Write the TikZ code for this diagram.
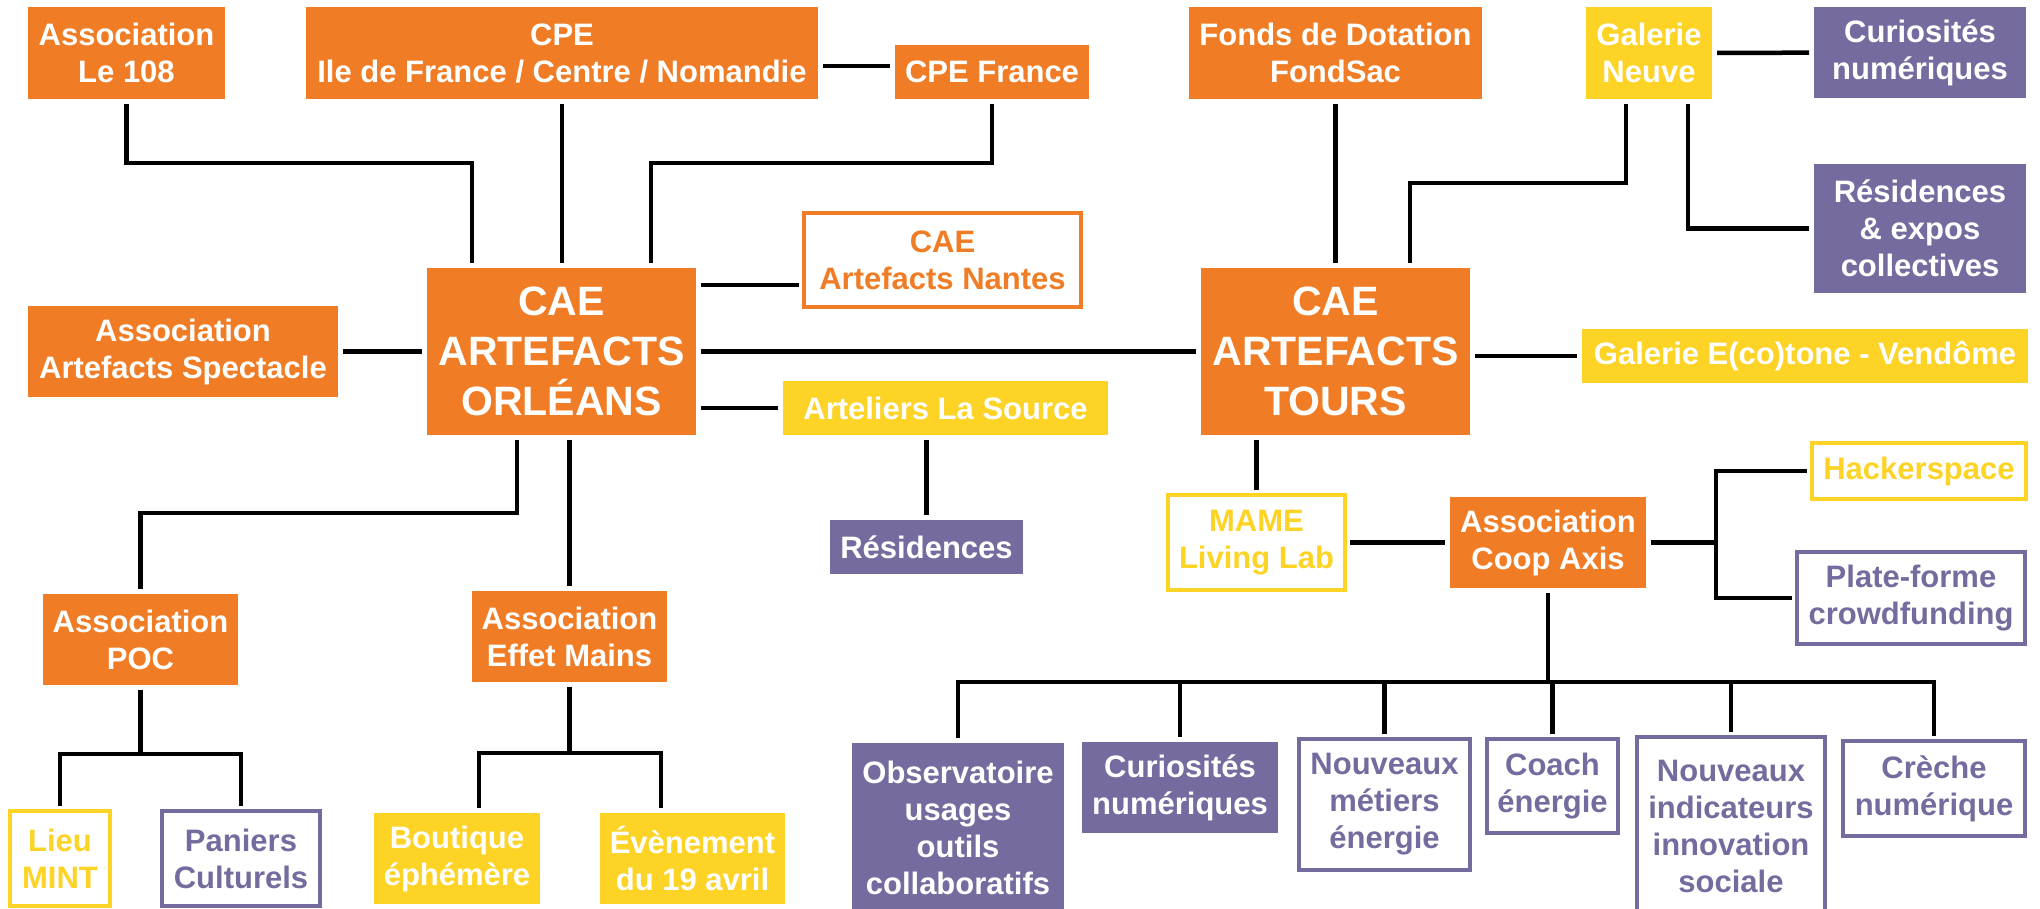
\documentclass[tikz,border=0pt]{standalone}
\usepackage{fontspec}
\setmainfont{Liberation Sans}
\definecolor{O}{RGB}{240, 125, 38}
\definecolor{Y}{RGB}{253, 211, 38}
\definecolor{P}{RGB}{118, 107, 158}
\tikzset{
  caja/.style={rectangle, inner sep=0pt, outer sep=5pt, align=center,
    font=\bfseries\fontsize{31}{37}\selectfont},
  llena/.style={caja, fill=#1, text=white},
  borde/.style={caja, draw=#1, line width=4.5pt, text=#1, fill=white},
  grande/.style={font=\bfseries\fontsize{41}{50}\selectfont},
  tam/.style 2 args={minimum width=#1pt, minimum height=#2pt},
  enlace/.style={line width=4.5pt},
}

\begin{document}
\begin{tikzpicture}[x=1pt,y=-1pt]
   	\useasboundingbox (0,0) rectangle (2040,909);

	%Nodos centrales
   	\node[llena=O, grande, tam={269}{167}] (orleans) at (561.5,351.5) {CAE\\ARTEFACTS\\ORLÉANS};
   	\node[llena=O, grande, tam={269}{167}] (tours) at (1335.5,351.5) {CAE\\ARTEFACTS\\TOURS};

	%Fila superior
   	\node[llena=O, tam={197}{92}] (le108) at (126.5,53) {Association\\Le 108};
   	\node[llena=O, tam={512}{92}] (cpeidf) at (562,53) {CPE\\Ile de France / Centre / Nomandie};
   	\node[llena=O, tam={194}{54}] (cpefr) at (992,72) {CPE France};
   	\node[llena=O, tam={293}{92}] (fondsac) at (1335.5,53) {Fonds de Dotation\\FondSac};
   	\node[llena=Y, tam={126}{92}] (galneuve) at (1649,53) {Galerie\\Neuve};
   	\node[llena=P, tam={212}{91}] (curhaut) at (1920,52.5) {Curiosités\\numériques};
   	\node[llena=P, tam={212}{129}] (resexpo) at (1920,228.5) {Résidences\\\& expos\\collectives};

	%Alrededor de Orleans
   	\node[borde=O, tam={277}{94}] (nantes) at (942.5,260) {CAE\\Artefacts Nantes};
   	\node[llena=O, tam={310}{91}] (spectacle) at (183,351.5) {Association\\Artefacts Spectacle};
   	\node[llena=Y, tam={325}{54}] (arteliers) at (945.5,408) {Arteliers La Source};
   	\node[llena=P, tam={193}{54}] (residences) at (926.5,547) {Résidences};

	%Alrededor de Tours
   	\node[llena=Y, tam={446}{54}] (vendome) at (1805,356) {Galerie E(co)tone - Vendôme};
   	\node[borde=Y, tam={214}{56}] (hacker) at (1919,471) {Hackerspace};
   	\node[borde=Y, tam={177}{95}] (mame) at (1256.5,542.5) {MAME\\Living Lab};
   	\node[llena=O, tam={196}{91}] (coop) at (1548,542.5) {Association\\Coop Axis};
   	\node[borde=P, tam={228}{92}] (plateforme) at (1911,598) {Plate-forme\\crowdfunding};

	%Rama inferior de Orleans
   	\node[llena=O, tam={195}{91}] (poc) at (140.5,639.5) {Association\\POC};
   	\node[llena=O, tam={195}{91}] (effet) at (569.5,636.5) {Association\\Effet Mains};
   	\node[borde=Y, tam={100}{95}] (lieu) at (60,858.5) {Lieu\\MINT};
   	\node[borde=P, tam={158}{95}] (paniers) at (241,858.5) {Paniers\\Culturels};
   	\node[llena=Y, tam={166}{91}] (boutique) at (457,858.5) {Boutique\\éphémère};
   	\node[llena=Y, tam={185}{91}] (evenement) at (692.5,858.5) {Évènement\\du 19 avril};

	%Rama inferior de Coop Axis
   	\node[llena=P, tam={212}{170}] (observ) at (958,828) {Observatoire\\usages\\outils\\collaboratifs};
   	\node[llena=P, tam={196}{91}] (curbas) at (1180,787.5) {Curiosités\\numériques};
   	\node[borde=P, tam={171}{131}] (metiers) at (1384.5,804.5) {Nouveaux\\métiers\\énergie};
   	\node[borde=P, tam={131}{94}] (coach) at (1552.5,786) {Coach\\énergie};
   	\node[borde=P, tam={188}{178}] (indic) at (1731,826) {Nouveaux\\indicateurs\\innovation\\sociale};
   	\node[borde=P, tam={182}{95}] (creche) at (1934,788.5) {Crèche\\numérique};

	%Puntos de quiebre
   	\coordinate (k1) at (472,163);
   	\coordinate (k2) at (651,163);
   	\coordinate (k3) at (0,66);
   	\coordinate (k4) at (0,285);
   	\coordinate (k5) at (517,513);
   	\coordinate (b1) at (140.5,754);
   	\coordinate (b2l) at (479,753);
   	\coordinate (b2r) at (661,753);
   	\coordinate (k7) at (1626,183);
   	\coordinate (k8) at (1410,183);
   	\coordinate (k9) at (1688,228.5);
   	\coordinate (k10) at (1716,542.5);
   	\coordinate (bus) at (1548,682);

	%Enlaces de Orleans
   	\draw[enlace] (le108.south) |- (k1) -- (k1 |- orleans.north);
   	\draw[enlace] (cpeidf.south) -- (cpeidf.south |- orleans.north);
   	\draw[enlace] (cpefr.south) |- (k2) -- (k2 |- orleans.north);
   	\draw[enlace] (cpeidf.east |- k3) -- (cpefr.west |- k3);
   	\draw[enlace] (orleans.east |- k4) -- (nantes.west |- k4);
   	\draw[enlace] (spectacle) -- (orleans);
   	\draw[enlace] (orleans) -- (tours);
   	\draw[enlace] (orleans.east |- arteliers) -- (arteliers);
   	\draw[enlace] (arteliers.south -| residences) -- (residences);
   	\draw[enlace] (orleans.south -| k5) -- (k5) -| (poc.north);
   	\draw[enlace] (orleans.south -| effet) -- (effet.north);

	%Enlaces de POC y Effet Mains
   	\draw[enlace] (poc.south) -- (b1);
   	\draw[enlace] (lieu.north) |- (paniers.north |- b1) -- (paniers.north);
   	\draw[enlace] (effet.south) -- (effet.south |- b2l);
   	\draw[enlace] (b2l |- boutique.north) -- (b2l) -- (b2r) -- (b2r |- evenement.north);

	%Enlaces de Tours
   	\draw[enlace] (fondsac) -- (tours);
   	\draw[enlace] (galneuve.south -| k7) -- (k7) -- (k8) -- (k8 |- tours.north);
   	\draw[enlace] (galneuve) -- (curhaut);
   	\draw[enlace] (galneuve.south -| k9) -- (k9) -- (resexpo.west);
   	\draw[enlace] (tours.east |- vendome) -- (vendome);
   	\draw[enlace] (tours.south -| mame) -- (mame.north);
   	\draw[enlace] (mame) -- (coop);

	%Enlaces de Coop Axis
   	\draw[enlace] (coop) -- (k10);
   	\draw[enlace] (hacker.west) -| (k10 |- plateforme.west) -- (plateforme.west);
   	\draw[enlace] (coop.south) -- (coop.south |- bus);
   	\draw[enlace] (observ.north) |- (creche.north |- bus) -- (creche.north);
   	\foreach \n in {curbas,metiers,coach,indic}
   		\draw[enlace] (\n.north) -- (\n.north |- bus);
 \end{tikzpicture}
\end{document}
